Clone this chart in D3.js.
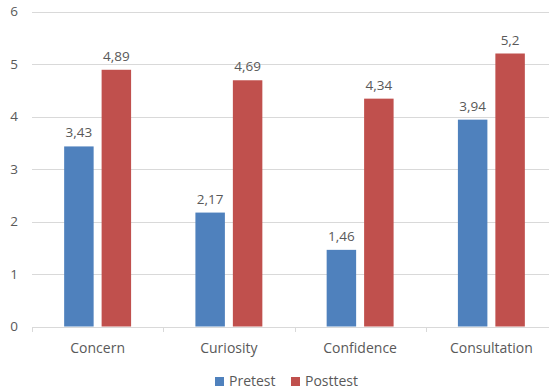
<!DOCTYPE html>
<meta charset="utf-8">
<title>Pretest vs Posttest</title>
<style>
body { margin: 0; background: #fff; }
text { font-family: "Open Sans", "Liberation Sans", sans-serif; fill: #595959; }
</style>
<svg width="549" height="391"></svg>
<script src="https://d3js.org/d3.v7.min.js"></script>
<script>

var categories = ["Concern", "Curiosity", "Confidence", "Consultation"],
    seriesNames = ["Pretest", "Posttest"],
    pretest = [3.43, 2.17, 1.46, 3.94],
    posttest = [4.89, 4.69, 4.34, 5.2],
    yTicks = [0, 1, 2, 3, 4, 5, 6];

var colors = ["#4f81bd", "#c0504d"];

var rows = categories.map(function(c, i) {
  return { cat: c, values: [pretest[i], posttest[i]] };
});

var svg = d3.select("svg");

var x0 = d3.scaleBand()
    .domain(categories)
    .range([32, 557])
    .paddingInner(0.49)
    .paddingOuter(0.245);

var x1 = d3.scaleBand()
    .domain(d3.range(2))
    .range([0, x0.bandwidth()])
    .paddingInner(0.213);

var y = d3.scaleLinear()
    .domain([0, 6])
    .range([326.5, 11.5]);

// gridlines
svg.append("g")
  .selectAll("line")
  .data(yTicks.slice(1))
  .enter().append("line")
    .attr("x1", 32)
    .attr("x2", 549)
    .attr("y1", function(d) { return Math.round(y(d)) + 0.5; })
    .attr("y2", function(d) { return Math.round(y(d)) + 0.5; })
    .attr("stroke", "#d9d9d9");

// y labels
svg.append("g")
  .selectAll("text")
  .data(yTicks)
  .enter().append("text")
    .attr("x", 18)
    .attr("y", function(d) { return y(d); })
    .attr("dy", "0.35em")
    .attr("text-anchor", "end")
    .style("font-size", "13.5px")
    .text(function(d) { return d; });

// bars
var groups = svg.append("g")
  .selectAll("g")
  .data(rows)
  .enter().append("g")
    .attr("transform", function(d) { return "translate(" + x0(d.cat) + ",0)"; });

groups.selectAll("rect")
  .data(function(d) { return d.values; })
  .enter().append("rect")
    .attr("x", function(d, i) { return x1(i); })
    .attr("y", function(d) { return y(d); })
    .attr("width", x1.bandwidth())
    .attr("height", function(d) { return y(0) - y(d); })
    .attr("fill", function(d, i) { return colors[i]; });

groups.selectAll("text")
  .data(function(d) { return d.values; })
  .enter().append("text")
    .attr("x", function(d, i) { return x1(i) + x1.bandwidth() / 2; })
    .attr("y", function(d) { return y(d) - 9; })
    .attr("text-anchor", "middle")
    .style("font-size", "13.5px")
    .text(function(d) { return String(d).replace(".", ","); });

// x axis
var xAxis = svg.append("g");
xAxis.append("line")
    .attr("x1", 32).attr("x2", 549)
    .attr("y1", Math.round(y(0)) + 0.5).attr("y2", Math.round(y(0)) + 0.5)
    .attr("stroke", "#d9d9d9");
xAxis.selectAll("line.tick")
  .data(categories)
  .enter().append("line")
    .attr("class", "tick")
    .attr("x1", function(d) { return Math.round(x0(d) - x0.step() * 0.245) + 0.5; })
    .attr("x2", function(d) { return Math.round(x0(d) - x0.step() * 0.245) + 0.5; })
    .attr("y1", Math.round(y(0)))
    .attr("y2", Math.round(y(0)) + 5)
    .attr("stroke", "#d9d9d9");
xAxis.selectAll("text")
  .data(categories)
  .enter().append("text")
    .attr("x", function(d) { return x0(d) + x0.bandwidth() / 2; })
    .attr("y", 353)
    .attr("text-anchor", "middle")
    .style("font-size", "14px")
    .text(function(d) { return d; });

// legend
var legend = svg.append("g")
  .selectAll("g")
  .data(seriesNames)
  .enter().append("g")
    .attr("transform", function(d, i) { return "translate(" + (215 + i * 76) + ",377)"; });
legend.append("rect")
    .attr("width", 9).attr("height", 9)
    .attr("fill", function(d, i) { return colors[i]; });
legend.append("text")
    .attr("x", 14)
    .attr("y", 4.5)
    .attr("dy", "0.35em")
    .style("font-size", "14px")
    .text(function(d) { return d; });

</script>
